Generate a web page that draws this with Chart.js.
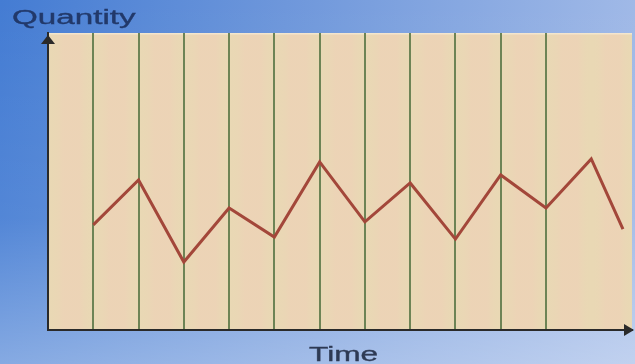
<!DOCTYPE html>
<html>
<head>
<meta charset="utf-8">
<script src="https://cdn.jsdelivr.net/npm/chart.js@4/dist/chart.umd.min.js"></script>
<style>
  html, body { margin: 0; padding: 0; overflow: hidden; }
  canvas { display: block; }
</style>
</head>
<body>
<canvas id="chart" width="635" height="364"></canvas>
<script>
// Time steps (x) and quantity readings (y)
const timeSteps = [1, 2, 3, 4, 5, 6, 7, 8, 9, 10, 11, 12, 12.7];
const quantity  = [3.54, 5.05, 2.29, 4.11, 3.13, 5.66, 3.64, 4.95, 3.06, 5.22, 4.11, 5.76, 3.40];
const xRange = [0, 12.9];
const yRange = [0, 10];
const axisTitles = { x: 'Time', y: 'Quantity' };

const INK = '#2a2a2a';

// Blue backdrop, beige plotting panel with soft vertical banding
const backdrop = {
  id: 'backdrop',
  beforeDraw(chart) {
    const { ctx, width, height, chartArea: a, scales: { x } } = chart;
    ctx.save();
    let g = ctx.createLinearGradient(0, 0, width, 0);
    g.addColorStop(0, '#447cd3');
    g.addColorStop(0.45, '#6e97db');
    g.addColorStop(1, '#a0b9e7');
    ctx.fillStyle = g;
    ctx.fillRect(0, 0, width, height);
    g = ctx.createLinearGradient(0, 0, 0, height);
    g.addColorStop(0, 'rgba(255,255,255,0)');
    g.addColorStop(0.6, 'rgba(255,255,255,0.08)');
    g.addColorStop(1, 'rgba(255,255,255,0.35)');
    ctx.fillStyle = g;
    ctx.fillRect(0, 0, width, height);

    ctx.fillStyle = '#e9d8b4';
    ctx.fillRect(a.left, a.top, a.right - a.left, a.bottom - a.top);
    for (let i = Math.floor(xRange[0]); i < xRange[1]; i++) {
      const x0 = x.getPixelForValue(i);
      const x1 = Math.min(x.getPixelForValue(i + 1), a.right);
      const sg = ctx.createLinearGradient(x0, 0, x1, 0);
      sg.addColorStop(0, 'rgba(233,216,182,0)');
      sg.addColorStop(0.35, 'rgba(240,206,184,0.45)');
      sg.addColorStop(0.7, 'rgba(240,206,184,0.45)');
      sg.addColorStop(1, 'rgba(233,216,182,0)');
      ctx.fillStyle = sg;
      ctx.fillRect(x0, a.top, x1 - x0, a.bottom - a.top);
    }
    ctx.fillStyle = 'rgba(255,250,235,0.45)';
    ctx.fillRect(a.left, a.top, a.right - a.left, 1.5);
    ctx.restore();
  }
};

// Arrowheads on the axes and wide axis titles
const axisDecor = {
  id: 'axisDecor',
  afterDraw(chart) {
    const { ctx, chartArea: a } = chart;
    ctx.save();
    ctx.fillStyle = INK;
    // y arrow
    ctx.beginPath();
    ctx.moveTo(a.left, a.top + 2);
    ctx.lineTo(a.left - 7, a.top + 11);
    ctx.lineTo(a.left + 7, a.top + 11);
    ctx.closePath();
    ctx.fill();
    // x arrow
    ctx.beginPath();
    ctx.moveTo(a.right + 2, a.bottom);
    ctx.lineTo(a.right - 8, a.bottom - 6);
    ctx.lineTo(a.right - 8, a.bottom + 6);
    ctx.closePath();
    ctx.fill();

    const title = (text, px, py, sx, color) => {
      ctx.save();
      ctx.translate(px, py);
      ctx.scale(sx, 1);
      ctx.font = '20px "Liberation Sans", Arial, sans-serif';
      ctx.textBaseline = 'alphabetic';
      ctx.textAlign = 'left';
      ctx.fillStyle = color;
      ctx.strokeStyle = color;
      ctx.lineWidth = 0.35;
      ctx.fillText(text, 0, 0);
      ctx.strokeText(text, 0, 0);
      ctx.restore();
    };
    title(axisTitles.y, 12, 24, 1.66, '#22396a');
    title(axisTitles.x, 309, 361, 1.58, '#2e3a54');
    ctx.restore();
  }
};

new Chart(document.getElementById('chart'), {
  type: 'line',
  data: {
    datasets: [{
      data: timeSteps.map((t, i) => ({ x: t, y: quantity[i] })),
      borderColor: '#a3473a',
      borderWidth: 3,
      pointRadius: 0,
      tension: 0,
      fill: false
    }]
  },
  options: {
    responsive: false,
    animation: false,
    layout: { padding: { left: 48, right: 3, top: 33, bottom: 34 } },
    plugins: { legend: { display: false }, tooltip: { enabled: false } },
    scales: {
      x: {
        type: 'linear',
        min: xRange[0],
        max: xRange[1],
        ticks: { display: false, stepSize: 1 },
        grid: {
          drawTicks: false,
          tickLength: 0,
          lineWidth: 2,
          color: (c) => {
            const v = c.tick ? c.tick.value : null;
            return (v !== null && Number.isInteger(v) && v > xRange[0]) ? '#6d8455' : 'rgba(0,0,0,0)';
          }
        },
        border: { display: true, color: INK, width: 2 }
      },
      y: {
        min: yRange[0],
        max: yRange[1],
        ticks: { display: false },
        grid: { display: false, drawTicks: false, tickLength: 0 },
        border: { display: true, color: INK, width: 2 }
      }
    }
  },
  plugins: [backdrop, axisDecor]
});
</script>
</body>
</html>
